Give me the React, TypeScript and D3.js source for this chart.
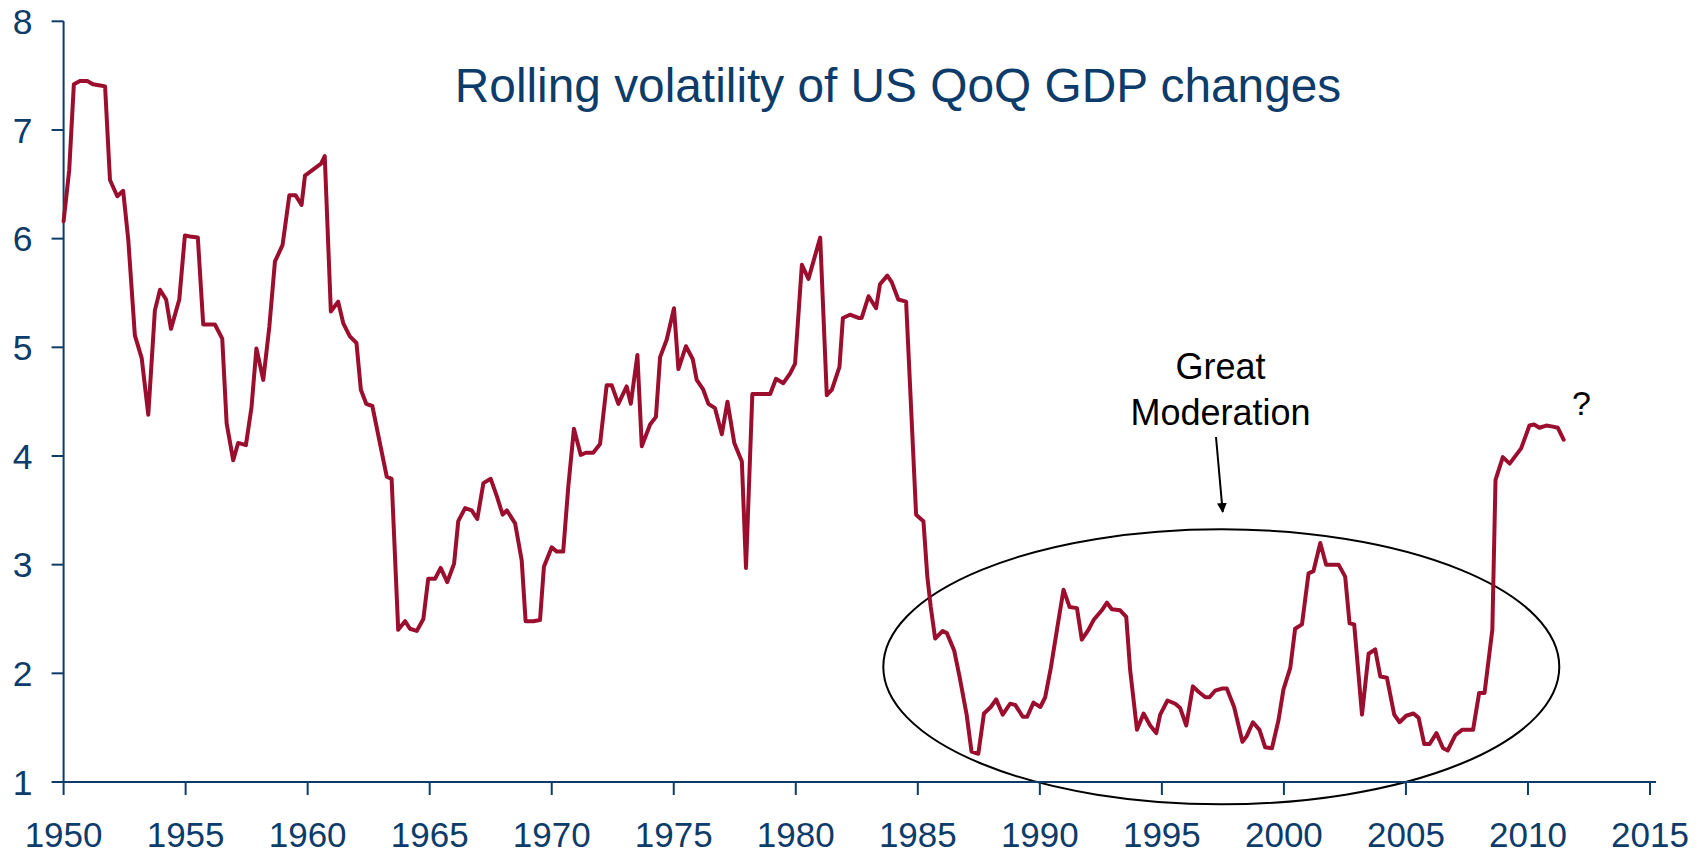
import React from "react";
import * as d3 from "d3";

const TITLE = "Rolling volatility of US QoQ GDP changes";
const yTicks = [1, 2, 3, 4, 5, 6, 7, 8];
const xTicks = [1950, 1955, 1960, 1965, 1970, 1975, 1980, 1985, 1990, 1995, 2000, 2005, 2010, 2015];

const years = [
  1950.0, 1950.23, 1950.42, 1950.67, 1950.97, 1951.2, 1951.5, 1951.7, 1951.9, 1952.2,
  1952.44, 1952.65, 1952.92, 1953.2, 1953.47, 1953.74, 1953.95, 1954.2, 1954.4, 1954.74,
  1954.97, 1955.18, 1955.5, 1955.72, 1955.97, 1956.2, 1956.5, 1956.68, 1956.95, 1957.15,
  1957.47, 1957.7, 1957.9, 1958.18, 1958.43, 1958.66, 1958.97, 1959.25, 1959.5, 1959.75,
  1959.89, 1960.37, 1960.55, 1960.7, 1960.95, 1961.25, 1961.46, 1961.73, 1962.0, 1962.18,
  1962.4, 1962.65, 1963.24, 1963.44, 1963.71, 1963.99, 1964.19, 1964.47, 1964.74, 1964.94,
  1965.22, 1965.45, 1965.72, 1966.0, 1966.17, 1966.45, 1966.72, 1966.95, 1967.2, 1967.5,
  1967.75, 1967.99, 1968.16, 1968.5, 1968.77, 1968.93, 1969.25, 1969.52, 1969.68, 1970.0,
  1970.2, 1970.47, 1970.68, 1970.91, 1971.19, 1971.4, 1971.7, 1971.98, 1972.25, 1972.46,
  1972.73, 1973.07, 1973.24, 1973.51, 1973.69, 1974.03, 1974.27, 1974.44, 1974.71, 1975.01,
  1975.19, 1975.5, 1975.78, 1975.94, 1976.21, 1976.42, 1976.69, 1976.97, 1977.2, 1977.48,
  1977.79, 1977.96, 1978.22, 1978.5, 1978.95, 1979.19, 1979.49, 1979.77, 1979.97, 1980.25,
  1980.52, 1981.0, 1981.27, 1981.48, 1981.79, 1981.93, 1982.22, 1982.57, 1982.7, 1982.98,
  1983.29, 1983.45, 1983.75, 1983.93, 1984.2, 1984.52, 1984.93, 1985.23, 1985.39, 1985.53,
  1985.71, 1986.02, 1986.19, 1986.49, 1986.71, 1987.0, 1987.2, 1987.48, 1987.71, 1987.99,
  1988.21, 1988.48, 1988.78, 1988.99, 1989.3, 1989.48, 1989.74, 1990.02, 1990.22, 1990.45,
  1990.7, 1990.97, 1991.22, 1991.52, 1991.72, 1991.99, 1992.2, 1992.54, 1992.75, 1992.95,
  1993.29, 1993.54, 1993.7, 1993.98, 1994.25, 1994.52, 1994.77, 1994.93, 1995.23, 1995.55,
  1995.75, 1996.0, 1996.27, 1996.5, 1996.78, 1996.95, 1997.18, 1997.46, 1997.66, 1997.96,
  1998.3, 1998.47, 1998.73, 1999.0, 1999.23, 1999.51, 1999.78, 1999.98, 2000.26, 2000.46,
  2000.74, 2001.01, 2001.21, 2001.49, 2001.73, 2002.03, 2002.24, 2002.51, 2002.69, 2002.88,
  2003.2, 2003.47, 2003.74, 2003.95, 2004.22, 2004.52, 2004.74, 2005.01, 2005.31, 2005.52,
  2005.75, 2005.97, 2006.25, 2006.52, 2006.71, 2007.02, 2007.3, 2007.57, 2007.75, 2008.0,
  2008.22, 2008.54, 2008.67, 2008.97, 2009.25, 2009.52, 2009.72, 2010.06, 2010.25, 2010.47,
  2010.75, 2011.02, 2011.22, 2011.46,
];

const volatility = [
  6.16, 6.63, 7.42, 7.45, 7.45, 7.42, 7.41, 7.4, 6.54, 6.39,
  6.44, 5.99, 5.11, 4.9, 4.38, 5.34, 5.53, 5.44, 5.17, 5.44,
  6.03, 6.02, 6.01, 5.21, 5.21, 5.21, 5.08, 4.3, 3.96, 4.12,
  4.1, 4.45, 4.99, 4.7, 5.19, 5.79, 5.94, 6.4, 6.4, 6.31,
  6.58, 6.66, 6.69, 6.76, 5.33, 5.42, 5.22, 5.1, 5.04, 4.61,
  4.48, 4.46, 3.81, 3.79, 2.4, 2.48, 2.41, 2.39, 2.5, 2.87,
  2.87, 2.97, 2.84, 3.01, 3.4, 3.52, 3.5, 3.42, 3.75, 3.79,
  3.63, 3.46, 3.5, 3.38, 3.04, 2.48, 2.48, 2.49, 2.98, 3.16,
  3.12, 3.12, 3.72, 4.25, 4.01, 4.03, 4.03, 4.11, 4.65, 4.65,
  4.48, 4.64, 4.48, 4.93, 4.09, 4.29, 4.36, 4.91, 5.07, 5.36,
  4.8, 5.01, 4.89, 4.7, 4.61, 4.48, 4.44, 4.2, 4.5, 4.12,
  3.95, 2.97, 4.57, 4.57, 4.57, 4.71, 4.67, 4.76, 4.85, 5.76,
  5.63, 6.01, 4.56, 4.61, 4.82, 5.27, 5.3, 5.27, 5.27, 5.47,
  5.36, 5.58, 5.66, 5.6, 5.44, 5.42, 3.46, 3.4, 2.89, 2.61,
  2.32, 2.39, 2.37, 2.21, 1.97, 1.62, 1.28, 1.26, 1.63, 1.69,
  1.76, 1.62, 1.72, 1.71, 1.6, 1.6, 1.73, 1.69, 1.78, 2.05,
  2.4, 2.77, 2.61, 2.6, 2.31, 2.4, 2.49, 2.58, 2.65, 2.59,
  2.58, 2.52, 2.03, 1.48, 1.63, 1.52, 1.45, 1.62, 1.75, 1.72,
  1.68, 1.52, 1.88, 1.83, 1.78, 1.78, 1.84, 1.86, 1.86, 1.69,
  1.37, 1.42, 1.55, 1.48, 1.32, 1.31, 1.57, 1.85, 2.05, 2.41,
  2.45, 2.92, 2.94, 3.2, 3.0, 3.0, 3.0, 2.89, 2.46, 2.45,
  1.62, 2.18, 2.22, 1.97, 1.96, 1.62, 1.55, 1.61, 1.63, 1.59,
  1.35, 1.35, 1.45, 1.31, 1.29, 1.43, 1.48, 1.48, 1.48, 1.82,
  1.82, 2.4, 3.78, 3.99, 3.93, 4.01, 4.07, 4.28, 4.29, 4.26,
  4.28, 4.27, 4.26, 4.15,
];

const W = 1707;
const H = 855;
const AXIS = "#0d3c6a";
const LINE = "#9b0e2e";
const FONT = "'Liberation Sans', Arial, Helvetica, sans-serif";

export default function App() {
  const x = d3.scaleLinear().domain([1950, 2015]).range([63.6, 1650]);
  const y = d3.scaleLinear().domain([1, 8]).range([782, 21.3]);
  const pts = years.map((yr, i) => [yr, volatility[i]] as [number, number]);
  const path = d3
    .line<[number, number]>()
    .x((d) => x(d[0]))
    .y((d) => y(d[1]))(pts) as string;

  const x0 = x(1950);
  const y0 = y(1);

  return (
    <svg
      width={W}
      height={H}
      style={{ position: "absolute", left: 0, top: 0, background: "#fff" }}
      fontFamily={FONT}
    >
      <defs>
        <marker id="arr" viewBox="0 0 10 10" refX="9" refY="5" markerWidth="5" markerHeight="5" orient="auto">
          <path d="M0,0 L10,5 L0,10 Z" fill="#000" />
        </marker>
      </defs>

      {/* title */}
      <text x={898} y={101.5} textAnchor="middle" fontSize={47.8} fill={AXIS}>
        {TITLE}
      </text>

      {/* ellipse annotation */}
      <ellipse cx={1221.3} cy={666.8} rx={338} ry={137.5} fill="none" stroke="#000" strokeWidth={2} />

      {/* y axis */}
      <line x1={x0} x2={x0} y1={y(8)} y2={y0} stroke={AXIS} strokeWidth={2} />
      {yTicks.map((t) => (
        <g key={"y" + t}>
          <line x1={x0 - 12} x2={x0} y1={y(t)} y2={y(t)} stroke={AXIS} strokeWidth={2} />
          <text x={32.5} y={y(t)} dy="0.36em" textAnchor="end" fontSize={35.5} fill={AXIS}>
            {t}
          </text>
        </g>
      ))}

      {/* x axis */}
      <line x1={x0} x2={1656} y1={y0} y2={y0} stroke={AXIS} strokeWidth={2} />
      {xTicks.map((t) => (
        <g key={"x" + t}>
          <line x1={x(t)} x2={x(t)} y1={y0} y2={y0 + 13} stroke={AXIS} strokeWidth={2} />
          <text x={x(t)} y={847} textAnchor="middle" fontSize={35} fill={AXIS}>
            {t}
          </text>
        </g>
      ))}

      {/* data line */}
      <path d={path} fill="none" stroke={LINE} strokeWidth={4} strokeLinejoin="round" strokeLinecap="round" />

      {/* Great Moderation annotation */}
      <text x={1220.5} y={379} textAnchor="middle" fontSize={36} fill="#000">
        Great
      </text>
      <text x={1220.5} y={425} textAnchor="middle" fontSize={36} fill="#000">
        Moderation
      </text>
      <line x1={1216} y1={437} x2={1222.7} y2={512} stroke="#000" strokeWidth={2} markerEnd="url(#arr)" />

      <text x={1572} y={415} fontSize={34} fill="#000">
        ?
      </text>
    </svg>
  );
}
